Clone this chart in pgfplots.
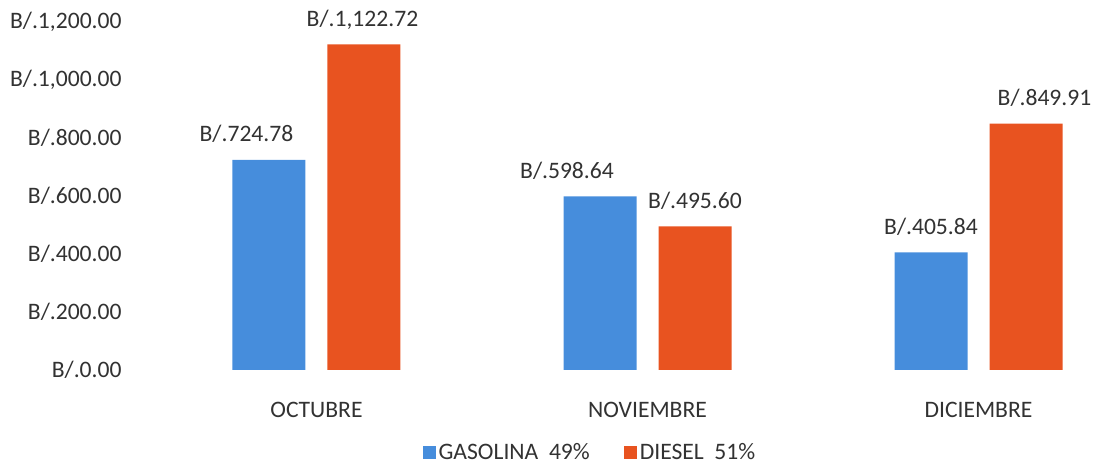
\documentclass[border=0pt]{standalone}
\usepackage{fontspec}
\setmainfont{Carlito}
\usepackage{pgfplots}
\pgfplotsset{compat=1.18}
\usepackage{pgfplotstable}
\definecolor{gasblue}{RGB}{70,141,220}
\definecolor{dieselorange}{RGB}{232,83,32}
\definecolor{txt}{RGB}{50,50,50}

\pgfplotstableread{
x y dx
0 724.78 -11.25
1 598.64 -16.5
2 405.84 0
}\gasolina
\pgfplotstableread{
x y dx
0 1122.72 -0.75
1 495.60 0
2 849.91 9.25
}\diesel

\begin{document}
\begin{tikzpicture}[font=\fontsize{11.8}{14}\selectfont, text=txt]
\path[use as bounding box] (-75.5pt,-47.5pt) rectangle (476.5pt,185pt);
\begin{axis}[
  at={(0,0)}, anchor=south west,
  x=165.5pt, y=0.145pt,
  xmin=-0.5, xmax=2.38, ymin=0, ymax=1200,
  clip=false,
  ybar=11pt, bar width=36.5pt,
  axis line style={draw=none},
  tick style={draw=none},
  /pgf/number format/assume math mode=true,
  ytick={0,200,...,1200},
  yticklabel={B/.\pgfmathprintnumber[fixed,fixed zerofill,precision=2,1000 sep={,}]{\tick}},
  yticklabel style={anchor=east, inner sep=0pt, xshift=-14.5pt, text=txt},
  xtick={0,1,2},
  xticklabels={OCTUBRE,NOVIEMBRE,DICIEMBRE},
  xticklabel style={anchor=base, inner sep=0pt, yshift=-19.5pt, text=txt},
  point meta=y,
  visualization depends on={\thisrow{dx} \as \dx},
  nodes near coords={B/.\pgfmathprintnumber[fixed,fixed zerofill,precision=2,1000 sep={,}]{\pgfplotspointmeta}},
  nodes near coords style={anchor=south, inner sep=0pt, text depth=0pt, yshift=8.75pt, xshift=\dx pt, text=txt},
  legend style={at={(0.461,0)}, anchor=center, yshift=-41.5pt, draw=none, fill=none,
    legend columns=2, font=\fontsize{11.8}{14}\selectfont, text=txt,
    /tikz/every even column/.append style={column sep=15.5pt},
    nodes={inner sep=1.5pt}},
]
\addplot[fill=gasblue, draw=none,
  legend image code/.code={\fill[gasblue] (0pt,-3.25pt) rectangle (6.5pt,3.25pt);}]
  table[x=x,y=y] {\gasolina};
\addlegendentry{GASOLINA\ \ 49\%}
\addplot[fill=dieselorange, draw=none,
  legend image code/.code={\fill[dieselorange] (0pt,-3.25pt) rectangle (6.5pt,3.25pt);}]
  table[x=x,y=y] {\diesel};
\addlegendentry{DIESEL\ \ 51\%}
\end{axis}
\end{tikzpicture}
\end{document}
